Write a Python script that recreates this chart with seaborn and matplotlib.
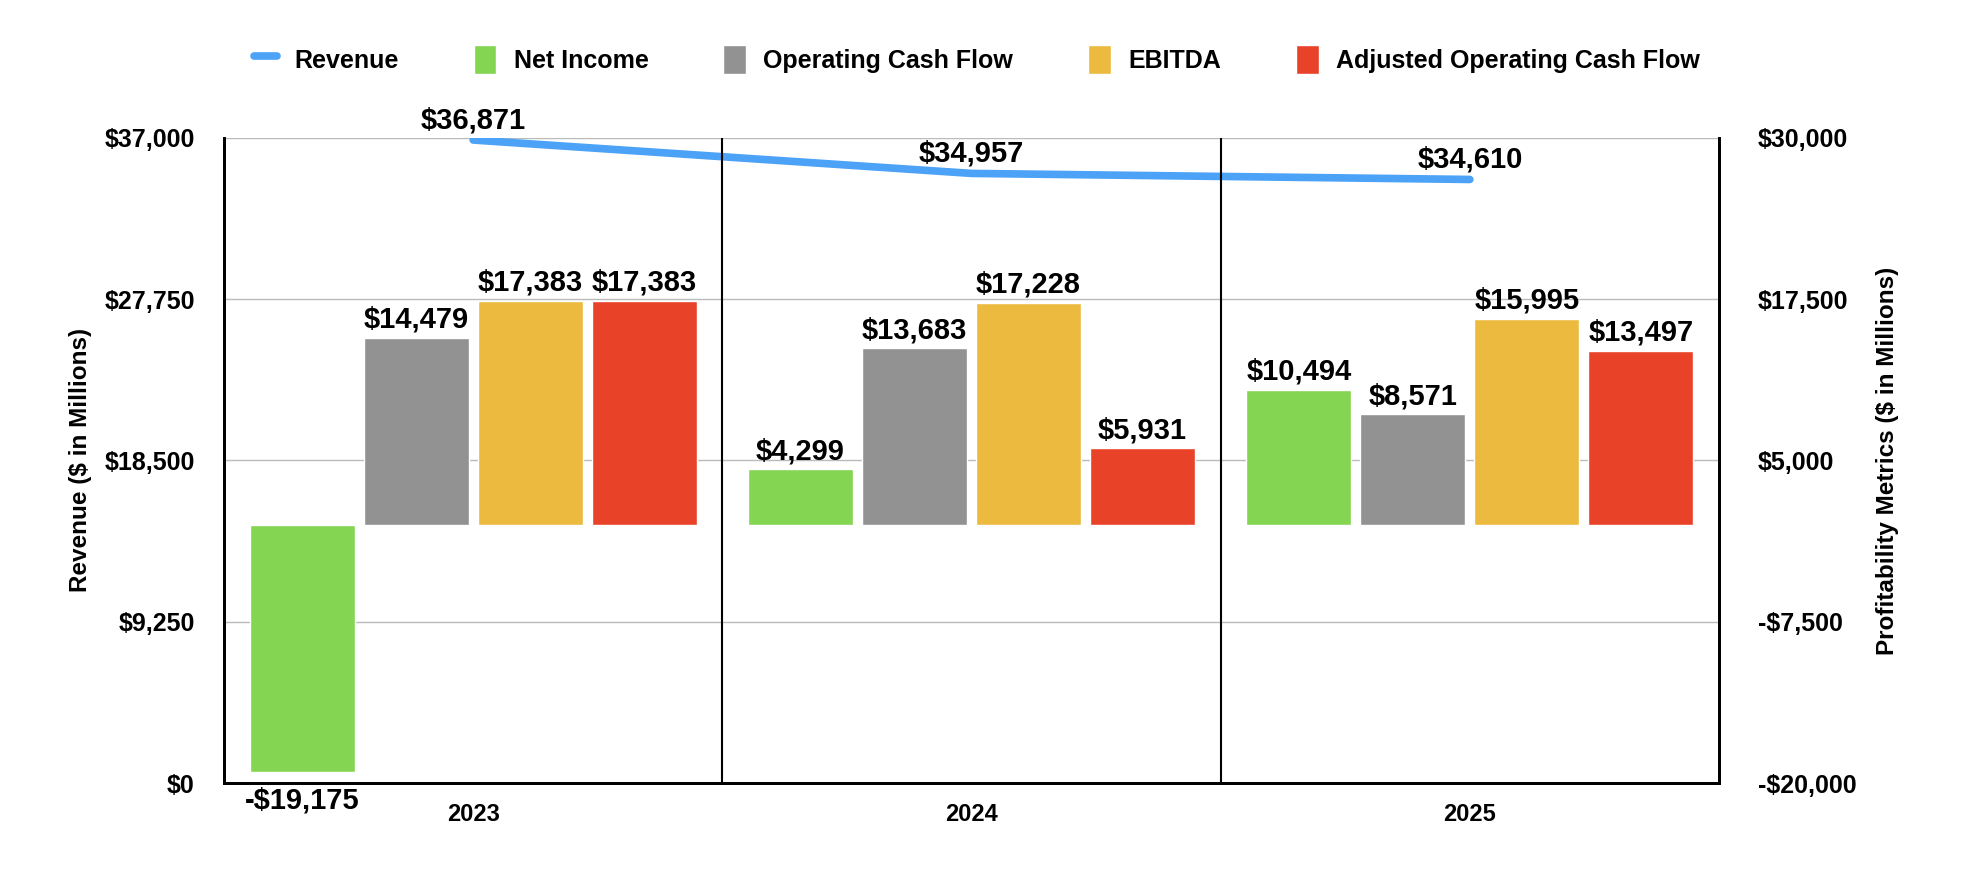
import numpy as np
import pandas as pd
import seaborn as sns
import matplotlib.pyplot as plt
from matplotlib.lines import Line2D
from matplotlib.patches import Patch

years = ["2023", "2024", "2025"]
revenue = [36871, 34957, 34610]
metrics = ["Net Income", "Operating Cash Flow", "EBITDA", "Adjusted Operating Cash Flow"]
net_income = [-19175, 4299, 10494]
op_cash_flow = [14479, 13683, 8571]
ebitda = [17383, 17228, 15995]
adj_op_cash_flow = [17383, 5931, 13497]

left_ticks = [0, 9250, 18500, 27750, 37000]
right_ticks = [-20000, -7500, 5000, 17500, 30000]

colors = {
    "Revenue": "#4BA2F6",
    "Net Income": "#84D552",
    "Operating Cash Flow": "#929292",
    "EBITDA": "#EDBA40",
    "Adjusted Operating Cash Flow": "#E84229",
}

bars_df = pd.DataFrame({
    "year": years * 4,
    "metric": np.repeat(metrics, 3),
    "value": net_income + op_cash_flow + ebitda + adj_op_cash_flow,
})

sns.set_style("white")
plt.rcParams['font.family'] = ['Liberation Sans', 'DejaVu Sans']
plt.rcParams['font.weight'] = 'bold'
plt.rcParams['text.color'] = 'black'
plt.rcParams['axes.labelcolor'] = 'black'
plt.rcParams['xtick.color'] = 'black'
plt.rcParams['ytick.color'] = 'black'


def money(v):
    return f"-${abs(v):,.0f}" if v < 0 else f"${v:,.0f}"


fig = plt.figure(figsize=(19.7, 8.72), dpi=100)
ax = fig.add_axes([0.1137, 0.102, 0.7589, 0.740])
ax2 = ax.twinx()

# profitability bars on the right axis
sns.barplot(
    data=bars_df, x="year", y="value", hue="metric", palette=colors,
    width=0.915, gap=0.08, saturation=1, legend=False, ax=ax2
)
for cont in ax2.containers:
    for bar, v in zip(cont, cont.datavalues):
        ax2.annotate(money(v), (bar.get_x() + bar.get_width() / 2, v),
                     xytext=(0, 3 if v >= 0 else -10), textcoords="offset points",
                     ha="center", va="bottom" if v >= 0 else "top",
                     fontsize=21, fontweight='bold', color='black')

# revenue line on the left axis
sns.lineplot(x=[0, 1, 2], y=revenue, color=colors["Revenue"], linewidth=5.5, ax=ax)
for i, v in enumerate(revenue):
    ax.annotate(money(v), (i, v), xytext=(0, 4), textcoords="offset points",
                ha="center", va="bottom", fontsize=21, fontweight='bold')

ax.set_ylim(0, 37000)
ax.set_yticks(left_ticks, [money(t) for t in left_ticks])
ax2.set_ylim(-20000, 30000)
ax2.set_yticks(right_ticks, [money(t) for t in right_ticks])
ax.set_xlim(-0.5, 2.5)
ax.set_xticks([0, 1, 2], years)

ax.grid(axis="y", color="#BBBBBB", linewidth=1)
ax.set_axisbelow(True)
for x in [0.5, 1.5]:
    ax.axvline(x, color="black", linewidth=1.5)

for a in (ax, ax2):
    a.spines["top"].set_visible(False)
    for s in ("left", "right", "bottom"):
        a.spines[s].set_color("black")
        a.spines[s].set_linewidth(2)
    a.tick_params(length=0, labelsize=18)
ax.tick_params(axis="y", pad=21)
ax2.tick_params(axis="y", pad=28)
ax.tick_params(axis="x", pad=14, labelsize=17)

ax.set_xlabel("")
ax2.set_xlabel("")
ax.set_ylabel("Revenue ($ in Millions)", fontsize=17.5, fontweight='bold', labelpad=9)
ax2.set_ylabel("Profitability Metrics ($ in Millions)", fontsize=17.5, fontweight='bold', labelpad=14)

handles = [Line2D([0], [0], color=colors["Revenue"], linewidth=5.5)]
handles += [Patch(facecolor=colors[m]) for m in metrics]
fig.legend(handles, ["Revenue"] + metrics, loc="center", bbox_to_anchor=(0.496, 0.932),
           ncol=5, frameon=False, fontsize=18, handlelength=0.9, handleheight=1.4,
           columnspacing=3.0, handletextpad=0.7)

fig.savefig("out.png", dpi=100)
